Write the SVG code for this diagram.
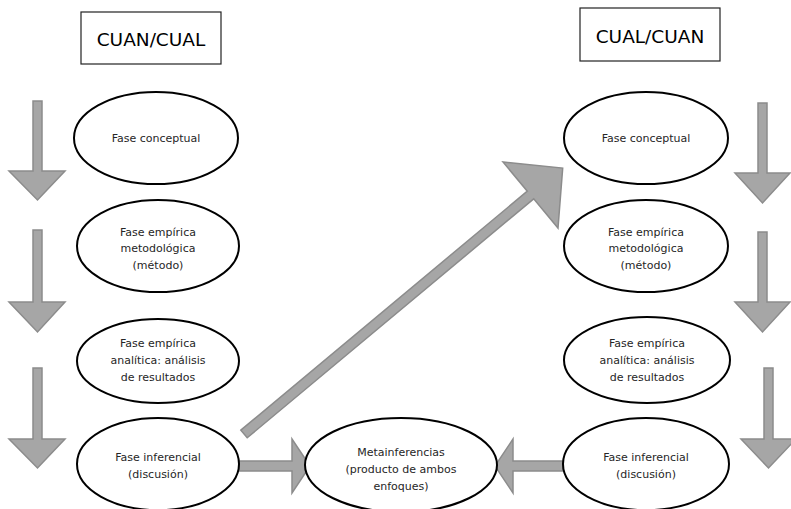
<svg xmlns="http://www.w3.org/2000/svg" width="791" height="509" viewBox="0 0 791 509">
<style>
.arr{fill:#a6a6a6;stroke:#8c8c8c;stroke-width:1.5;stroke-linejoin:miter}
.node{fill:#ffffff;stroke:#000000;stroke-width:2}
.box{fill:#ffffff;stroke:#222222;stroke-width:1.2}
.t{font-family:"DejaVu Sans",Verdana,sans-serif;font-size:11px;fill:#262626;text-anchor:middle}
.title{font-family:"DejaVu Sans",Verdana,sans-serif;font-size:18.5px;fill:#000000;text-anchor:middle}
</style>
<rect width="791" height="509" fill="#ffffff"/>
<g id="connectors">
<path class="arr" d="M33,101 H42 V171 H65 L37.5,200 L9,171 H33 Z"/>
<path class="arr" d="M33,230 H42 V302 H65 L37.5,332 L9,302 H33 Z"/>
<path class="arr" d="M33,368 H42 V439 H65 L37.5,468 L9,439 H33 Z"/>
<path class="arr" d="M758,103 H767 V173 H790 L762.5,203 L735,173 H758 Z"/>
<path class="arr" d="M758,232 H767 V302 H790 L762.5,332 L735,302 H758 Z"/>
<path class="arr" d="M764,368 H773 V439 H796 L768.5,468 L741,439 H764 Z"/>
<path class="arr" d="M239,461 H292 V439 L310,466 L292,493 V471 H239 Z"/>
<path class="arr" d="M563,461 H513 V439 L495,466 L513,493 V471 H563 Z"/>
<path class="arr" d="M240.8,430.2 L527.3,191.2 L503,162 L562.7,168.1 L558,228 L533.7,198.8 L247.2,437.8 Z"/>
</g>
<g id="title-left">
<rect class="box" x="81" y="12" width="140" height="52"/>
<text class="title" x="151" y="46">CUAN/CUAL</text>
</g>
<g id="title-right">
<rect class="box" x="580" y="8" width="140" height="53"/>
<text class="title" x="650" y="43">CUAL/CUAN</text>
</g>
<g id="left-conceptual">
<ellipse class="node" cx="156" cy="138" rx="82" ry="46"/>
<text class="t" x="156" y="142">Fase conceptual</text>
</g>
<g id="left-metodologica">
<ellipse class="node" cx="158" cy="246" rx="81" ry="46"/>
<text class="t" x="158" y="236">Fase empírica</text>
<text class="t" x="158" y="252">metodológica</text>
<text class="t" x="158" y="269">(método)</text>
</g>
<g id="left-analitica">
<ellipse class="node" cx="158" cy="361" rx="81" ry="42"/>
<text class="t" x="158" y="347">Fase empírica</text>
<text class="t" x="158" y="364">analítica: análisis</text>
<text class="t" x="158" y="381">de resultados</text>
</g>
<g id="left-inferencial">
<ellipse class="node" cx="158" cy="464" rx="81" ry="46"/>
<text class="t" x="158" y="461">Fase inferencial</text>
<text class="t" x="158" y="478">(discusión)</text>
</g>
<g id="metainferencias">
<ellipse class="node" cx="401" cy="465" rx="96" ry="47"/>
<text class="t" x="401" y="456">Metainferencias</text>
<text class="t" x="401" y="473">(producto de ambos</text>
<text class="t" x="401" y="490">enfoques)</text>
</g>
<g id="right-conceptual">
<ellipse class="node" cx="646" cy="138" rx="82" ry="46"/>
<text class="t" x="646" y="142">Fase conceptual</text>
</g>
<g id="right-metodologica">
<ellipse class="node" cx="646" cy="246" rx="82" ry="46"/>
<text class="t" x="646" y="236">Fase empírica</text>
<text class="t" x="646" y="252">metodológica</text>
<text class="t" x="646" y="269">(método)</text>
</g>
<g id="right-analitica">
<ellipse class="node" cx="647" cy="360" rx="83" ry="43"/>
<text class="t" x="647" y="347">Fase empírica</text>
<text class="t" x="647" y="364">analítica: análisis</text>
<text class="t" x="647" y="381">de resultados</text>
</g>
<g id="right-inferencial">
<ellipse class="node" cx="646" cy="464" rx="83" ry="46"/>
<text class="t" x="646" y="461">Fase inferencial</text>
<text class="t" x="646" y="478">(discusión)</text>
</g>
</svg>
